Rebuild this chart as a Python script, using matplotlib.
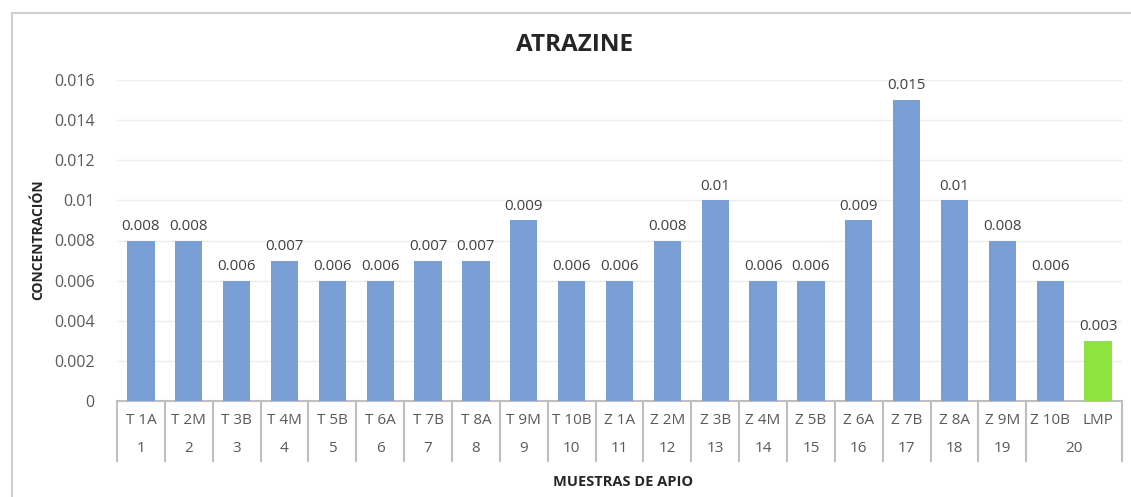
import matplotlib
matplotlib.use("Agg")
import matplotlib.pyplot as plt
from matplotlib.patches import Rectangle
from matplotlib.lines import Line2D

samples = ["T 1A", "T 2M", "T 3B", "T 4M", "T 5B", "T 6A", "T 7B", "T 8A", "T 9M", "T 10B",
           "Z 1A", "Z 2M", "Z 3B", "Z 4M", "Z 5B", "Z 6A", "Z 7B", "Z 8A", "Z 9M", "Z 10B", "LMP"]
groups = ["1", "2", "3", "4", "5", "6", "7", "8", "9", "10",
          "11", "12", "13", "14", "15", "16", "17", "18", "19", "20", "20"]
values = [0.008, 0.008, 0.006, 0.007, 0.006, 0.006, 0.007, 0.007, 0.009, 0.006,
          0.006, 0.008, 0.01, 0.006, 0.006, 0.009, 0.015, 0.01, 0.008, 0.006, 0.003]
yticks = [0, 0.002, 0.004, 0.006, 0.008, 0.01, 0.012, 0.014, 0.016]
ytick_labels = ["0", "0.002", "0.004", "0.006", "0.008", "0.01", "0.012", "0.014", "0.016"]

W, H = 1131, 497
fig = plt.figure(figsize=(W / 100, H / 100), dpi=100)
plt.rcParams['font.family'] = ['Open Sans', 'DejaVu Sans']

left, right, bottom, top = 117, 1122, 401, 80
ax = fig.add_axes([left / W, 1 - bottom / H, (right - left) / W, (bottom - top) / H])

text_c = "#595959"
blue = "#7A9FD6"
green = "#8EE43E"
colors = [blue] * (len(values) - 1) + [green]

x = list(range(len(values)))
ax.bar(x, values, width=0.57, color=colors, zorder=3)
for xi, v in zip(x, values):
    ax.text(xi, v + 0.00033, f"{v:g}", ha="center", va="bottom", fontsize=10.8, color="#404040", zorder=4)

ax.set_xlim(-0.5, len(values) - 0.5)
ax.set_ylim(0, 0.016)
ax.set_yticks(yticks)
ax.set_yticklabels(ytick_labels, fontsize=11.5, color=text_c)
ax.tick_params(axis="y", length=0, pad=16)
ax.set_xticks([])
ax.grid(axis="y", color="#EDEDED", linewidth=1, zorder=0)
for s in ["top", "right", "left"]:
    ax.spines[s].set_visible(False)
ax.spines["bottom"].set_color("#BFBFBF")
ax.spines["bottom"].set_linewidth(1.5)

# multi-level category axis
tr = ax.get_xaxis_transform()
axh = bottom - top
row1 = -(421 - bottom) / axh
row2 = -(449 - bottom) / axh
sep_bot = -(461 - bottom) / axh
for xi, s in zip(x, samples):
    ax.text(xi, row1, s, transform=tr, ha="center", va="center", fontsize=11, color=text_c)
shown = []
for i, g in enumerate(groups):
    if g in shown:
        continue
    idx = [j for j, gg in enumerate(groups) if gg == g]
    cx = (idx[0] + idx[-1]) / 2
    ax.text(cx, row2, g, transform=tr, ha="center", va="center", fontsize=11, color=text_c)
    shown.append(g)
bounds = [-0.5] + [i + 0.5 for i in range(len(groups) - 1) if groups[i] != groups[i + 1]] + [len(groups) - 0.5]
for b in bounds:
    ax.add_line(Line2D([b, b], [0, sep_bot], transform=tr, color="#BFBFBF", linewidth=1.5, clip_on=False))

fig.text(575 / W, 1 - 45 / H, "ATRAZINE", ha="center", va="center", fontsize=17.5, fontweight="bold", color="#262626")
fig.text(38 / W, 1 - 240 / H, "CONCENTRACIÓN", ha="center", va="center", rotation=90, fontsize=10, fontweight="bold", color="#262626")
fig.text(623 / W, 1 - 482 / H, "MUESTRAS DE APIO", ha="center", va="center", fontsize=10.5, fontweight="bold", color="#262626")

# chart frame
fig.add_artist(Rectangle((12 / W, -0.05), 1.2, 1 - 13 / H + 0.05, transform=fig.transFigure,
                         fill=False, edgecolor="#D0D0D0", linewidth=1.5))

fig.savefig("out.png", dpi=100)
